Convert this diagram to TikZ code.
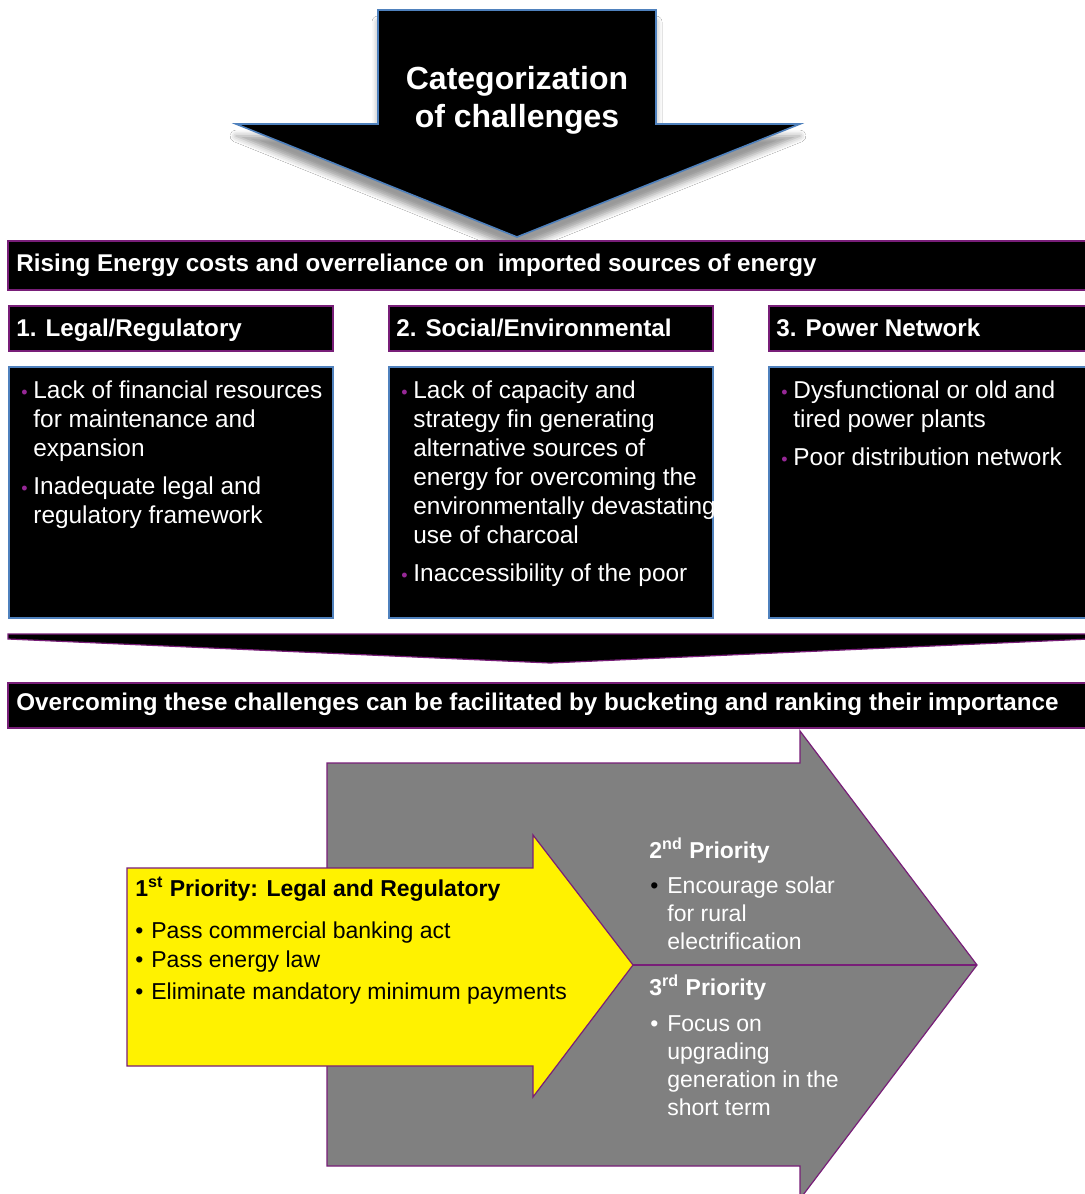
\documentclass[tikz,border=0pt]{standalone}
\usepackage{fontspec}
\setmainfont{Liberation Sans}
\usetikzlibrary{shadows.blur}

\definecolor{edgepurple}{RGB}{120,30,120}
\definecolor{edgeblue}{RGB}{79,129,189}
\definecolor{dotpurple}{RGB}{150,40,150}
\definecolor{arrowgray}{RGB}{128,128,128}

\newcommand{\pdot}{\makebox[6pt][l]{\raisebox{0.3pt}{\textcolor{dotpurple}{\fontsize{9}{9}\selectfont\textbullet}}}}
\newcommand{\ydot}{\makebox[8pt][l]{\textbullet}}
\newcommand{\gdot}[1]{\makebox[8.5pt][l]{\textcolor{#1}{\textbullet}}}

\tikzset{
    blackbar/.style={fill=black, draw=edgepurple, line width=0.6pt},
    bodybox/.style={fill=black, draw=edgeblue, line width=0.6pt},
    headtxt/.style={anchor=base west, inner sep=0pt, text=white, font=\bfseries\fontsize{12.1}{14}\selectfont},
    listtxt/.style={anchor=north west, inner sep=0pt, text=white, font=\fontsize{12.2}{14.5}\selectfont},
    prioarrow/.style={draw=edgepurple, line width=0.6pt},
}

\begin{document}
\begin{tikzpicture}[x=0.5pt, y=-0.5pt]
    \useasboundingbox[fill=white] (0,0) rectangle (1084,1194);

    % big arrow on top
    \filldraw[fill=black, draw=edgeblue, line width=0.8pt,
        blur shadow={shadow xshift=0pt, shadow yshift=-6pt, shadow blur radius=3pt, shadow opacity=40}]
        (378,10) -- (656,10) -- (656,124) -- (800,124) -- (517,237) -- (236,124) -- (378,124) -- cycle;
    \node[anchor=north, inner sep=0pt, align=center, text=white, font=\bfseries\fontsize{16}{19}\selectfont]
        (cat) at (517,62) {\strut Categorization\\of challenges};

    % rising costs bar
    \draw[blackbar] (8,241) rectangle (1090,290);
    \node[headtxt] (rise) at (16,271) {Rising Energy costs and overreliance on~ imported sources of energy};

    % three columns
    \foreach \x in {9, 389, 769} {
        \draw[blackbar] (\x,306) rectangle +(324,45);
        \draw[bodybox] (\x,367) rectangle +(324,251);
    }
    \node[headtxt] (legal) at (16,336) {1. Legal/Regulatory};
    \node[headtxt] (social) at (396,336) {2. Social/Environmental};
    \node[headtxt] (power) at (776,336) {3. Power Network};

    \node[listtxt] (legallist) at (21,378) {\begin{tabular}{@{}l@{}l@{}}
        \pdot & Lack of financial resources\\
              & for maintenance and\\
              & expansion\\[4.5pt]
        \pdot & Inadequate legal and\\
              & regulatory framework
    \end{tabular}};
    \node[listtxt] (sociallist) at (401,378) {\begin{tabular}{@{}l@{}l@{}}
        \pdot & Lack of capacity and\\
              & strategy fin generating\\
              & alternative sources of\\
              & energy for overcoming the\\
              & environmentally devastating\\
              & use of charcoal\\[4.5pt]
        \pdot & Inaccessibility of the poor
    \end{tabular}};
    \node[listtxt] (powerlist) at (781,378) {\begin{tabular}{@{}l@{}l@{}}
        \pdot & Dysfunctional or old and\\
              & tired power plants\\[4.5pt]
        \pdot & Poor distribution network
    \end{tabular}};

    % flat chevron
    \filldraw[fill=black, draw=edgepurple, line width=0.6pt]
        (8,634) -- (1090,634) -- (1090,639) -- (550,663) -- (8,639) -- cycle;

    % overcoming bar
    \draw[blackbar] (8,683) rectangle (1090,728);
    \node[headtxt] (over) at (16,710) {Overcoming these challenges can be facilitated by bucketing and ranking their importance};

    % priority arrows
    \filldraw[prioarrow, fill=arrowgray]
        (327,763) -- (800,763) -- (800,731) -- (977,965) -- (800,1199) -- (800,1166) -- (327,1166) -- cycle;
    \draw[edgepurple, line width=0.6pt] (633,965) -- (977,965);
    \filldraw[prioarrow, fill=yellow]
        (127,868) -- (533,868) -- (533,835) -- (633,965) -- (533,1097) -- (533,1066) -- (127,1066) -- cycle;

    \node[anchor=base west, inner sep=0pt, font=\bfseries\fontsize{11.5}{14}\selectfont]
        (first) at (135,896) {1\textsuperscript{st} Priority: Legal and Regulatory};
    \node[anchor=north west, inner sep=0pt, font=\fontsize{11.5}{14.5}\selectfont]
        (firstlist) at (135,918) {\begin{tabular}{@{}l@{}l@{}}
        \ydot & Pass commercial banking act\\
        \ydot & Pass energy law\\[1.5pt]
        \ydot & Eliminate mandatory minimum payments
    \end{tabular}};

    \node[anchor=base west, inner sep=0pt, text=white, font=\bfseries\fontsize{11.5}{14}\selectfont]
        (second) at (649,858) {2\textsuperscript{nd} Priority};
    \node[anchor=north west, inner sep=0pt, text=white, font=\fontsize{11.5}{14}\selectfont]
        (secondlist) at (650,873) {\begin{tabular}{@{}l@{}l@{}}
        \gdot{black} & Encourage solar\\
                     & for rural\\
                     & electrification
    \end{tabular}};

    \node[anchor=base west, inner sep=0pt, text=white, font=\bfseries\fontsize{11.5}{14}\selectfont]
        (third) at (649,995) {3\textsuperscript{rd} Priority};
    \node[anchor=north west, inner sep=0pt, text=white, font=\fontsize{11.5}{14}\selectfont]
        (thirdlist) at (650,1011) {\begin{tabular}{@{}l@{}l@{}}
        \gdot{white} & Focus on\\
                     & upgrading\\
                     & generation in the\\
                     & short term
    \end{tabular}};
\end{tikzpicture}
\end{document}
